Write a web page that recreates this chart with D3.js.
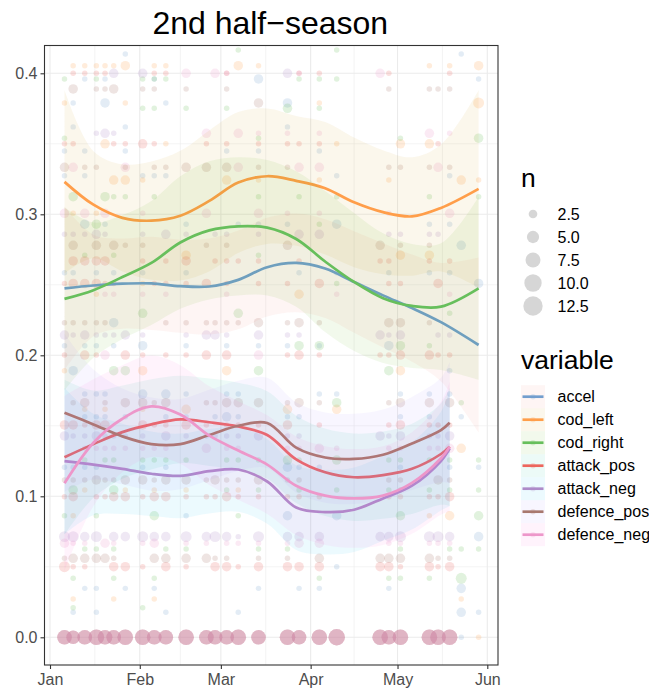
<!DOCTYPE html>
<html><head><meta charset="utf-8">
<script src="https://cdn.jsdelivr.net/npm/d3@7"></script>
<style>
body{margin:0;background:#fff}
svg{display:block}
text{font-family:"Liberation Sans",Arial,Helvetica,sans-serif}
</style>
</head><body>
<svg id="chart" width="649" height="688"></svg>
<script>
// ---------- data ----------
const variables  = ["accel","cod_left","cod_right","attack_pos","attack_neg","defence_pos","defence_neg"];
const lineColors = ["#729ECE","#FF9E4A","#67BF5C","#ED665D","#AD8BC9","#A8786E","#ED97CA"];
const fillColors = ["#F8766D","#C49A00","#53B400","#00C094","#00B6EB","#A58AFF","#FB61D7"];
const sizeBreaks = [2.5, 5.0, 7.5, 10.0, 12.5];
const yTicks = [0, 0.1, 0.2, 0.3, 0.4];
const monthTicks = ["2019-01-01","2019-02-01","2019-03-01","2019-04-01","2019-05-01","2019-06-01"];

const sessions = ["2019-01-06","2019-01-09","2019-01-13","2019-01-17","2019-01-20","2019-01-23","2019-01-27",
  "2019-02-02","2019-02-06","2019-02-10","2019-02-17","2019-02-24","2019-02-27","2019-03-03","2019-03-07",
  "2019-03-14","2019-03-24","2019-03-28","2019-04-04","2019-04-10","2019-04-25","2019-04-28","2019-05-02",
  "2019-05-12","2019-05-15","2019-05-19","2019-05-23","2019-05-29"];

// smooth curve sample dates
const topDates = ["2019-01-06","2019-01-16","2019-01-26","2019-02-05","2019-02-15","2019-02-25","2019-03-07",
  "2019-03-17","2019-03-27","2019-04-06","2019-04-16","2019-04-26","2019-05-06","2019-05-16","2019-05-29"];
const lowDates = ["2019-01-06","2019-01-16","2019-01-26","2019-02-05","2019-02-15","2019-02-25","2019-03-07",
  "2019-03-17","2019-03-27","2019-04-06","2019-04-16","2019-04-26","2019-05-06","2019-05-16","2019-05-19"];

const accelFit = [0.2475,0.2495,0.2508,0.251,0.249,0.2488,0.2535,0.2625,0.2655,0.2615,0.252,0.2425,0.2335,0.2235,0.2073];
const accelSE  = [0.058,0.036,0.032,0.033,0.033,0.034,0.035,0.035,0.035,0.035,0.036,0.037,0.038,0.042,0.062];
const codLeftFit = [0.323,0.3068,0.2975,0.2955,0.299,0.3095,0.3225,0.327,0.3237,0.3185,0.3085,0.3015,0.2985,0.3045,0.318];
const codLeftSE  = [0.065,0.038,0.038,0.042,0.046,0.050,0.050,0.048,0.046,0.047,0.046,0.044,0.042,0.045,0.070];
const codRightFit = [0.240,0.2462,0.2555,0.2655,0.280,0.2886,0.2915,0.2905,0.2825,0.2665,0.252,0.2405,0.235,0.2345,0.2475];
const codRightSE  = [0.065,0.048,0.044,0.044,0.047,0.049,0.049,0.048,0.048,0.050,0.049,0.046,0.044,0.045,0.065];
const attackPosFit = [0.1277,0.137,0.1455,0.151,0.1545,0.1525,0.1495,0.1435,0.1262,0.117,0.1135,0.115,0.1195,0.130,0.1352];
const attackPosSE  = [0.055,0.038,0.033,0.032,0.031,0.031,0.031,0.031,0.031,0.031,0.031,0.031,0.032,0.036,0.042];
const attackNegFit = [0.125,0.1225,0.1195,0.116,0.1145,0.1178,0.119,0.1105,0.092,0.0888,0.0905,0.0985,0.1075,0.125,0.134];
const attackNegSE  = [0.052,0.036,0.032,0.030,0.030,0.030,0.030,0.030,0.030,0.030,0.030,0.030,0.031,0.035,0.041];
const defencePosFit = [0.1593,0.151,0.1425,0.137,0.137,0.1435,0.150,0.152,0.1345,0.1275,0.1265,0.1295,0.1375,0.147,0.1522];
const defencePosSE  = [0.056,0.039,0.034,0.033,0.032,0.032,0.032,0.032,0.032,0.032,0.032,0.032,0.033,0.037,0.043];
const defenceNegFit = [0.1092,0.138,0.155,0.1638,0.158,0.143,0.1325,0.1225,0.1075,0.1005,0.0985,0.1005,0.1095,0.127,0.1352];
const defenceNegSE  = [0.062,0.045,0.038,0.036,0.035,0.035,0.035,0.035,0.035,0.035,0.035,0.035,0.036,0.040,0.046];

// points: [value, [session index | [session index, n]]]
const accelPts = [
 [0.4137,[6,26]],[0.396,[2,4,8,[15,3],27]],[0.379,[1,[4,3],9,[16,3]]],[0.362,[1,6,16]],
 [0.3449,[0,2,6,13,15,18]],[0.3274,[0,2,7,8,9,19,25]],[0.293,[[2,3],4,10,14,15,16,[19,3],23,25]],
 [0.278,[[26,3]]],[0.2586,[0,1,3,5,7,10,17,19,21,23,25]],[0.251,[[27,3]]],[0.2231,[[5,3]]],
 [0.2068,[0,2,3,5,[7,3],10,13,15,16,18,[21,3]]],[0.1891,[[1,3],25]],
 [0.1725,[2,3,4,[7,3],[9,3],10,13,14,18,19,22,23,25]],[0.1564,[2,3,4,6,9,10,12,[13,3],14,16,17,22,23,26]],
 [0.1206,[0,1,2,3,7,9,[16,3],17,18,22,25,27]],[0.0862,[10,[16,3],[19,3]]],[0.0714,[[27,3]]],
 [0.0501,[19]],[0.0347,[2,3,6,8,15,17,18,21,[26,3]]],[0.0177,[1,3,9,14,[26,3],27]],[0,[26]]
];
const codLeftPts = [
 [0.4054,[1,2,3,4,5,[6,3],8,9,[14,3],15,23,25,[27,3]]],[0.379,[0,6,18,[27,4]]],
 [0.35,[[4,3],9,19,[22,3],[23,3]]],[0.3243,[[5,3],[6,3],7,[13,3],15,18,21,[26,3],27]],
 [0.3007,[1,3]],[0.271,[[10,3],[22,3],[23,3]]],[0.251,[7]],[0.2433,[3,[17,3]]],
 [0.1891,[0,[7,3],[13,3],[22,3]]],[0.1617,[2,4,7,[10,3],[16,3],[19,3]]],[0.134,[[26,3]]],
 [0.1045,[2,6,8,10,14]],[0.0862,[1,23,[25,3]]],[0.0272,[1,5,8,26]],[0,[27]]
];
const codRightPts = [
 [0.4165,[14,19]],[0.396,[0,3,7,8,9,17,18,19]],[0.3752,[7,8,10,13,[16,3],18]],[0.354,[0,15,22,[27,3]]],
 [0.3125,[[1,3],[4,3],5,6,8,15,17,19,23,27]],[0.293,[[3,3],18]],[0.271,[2,5,15]],[0.251,[19]],
 [0.2298,[[7,3],[14,3],25]],[0.2068,[[17,3],[18,3],[22,3],23]],[0.1891,[[5,3],[6,3],[15,3],[21,3]]],
 [0.1664,[[19,3],26]],[0.1257,[2,4,5,7,8,9,10,13,14,15,[16,3],17,[19,3],21,22,23,25,27]],
 [0.1045,[[1,3],[5,3],13,15,17,19,21,22,23,25,27]],[0.0862,[0,3,[8,3],14,[22,3],[27,3]]],
 [0.0626,[2,3,5,9,10,15,16,22,25,26,27]],[0.0418,[1,5,8,18,21,22,23,[26,4]]],[0.021,[1,7]]
];
const zeroN = [7,6,7,8,7,7,8,8,7,7,8,7,7,7,8,7,8,7,8,9,8,7,8,8,8,8];
const attackPosPts = [
 [0.40,[1,2,3,4,8,9,13,17,18,21,25]],[0.35,[0,1,5,6,[7,3],8,11,13,15,16,17,18,24]],
 [0.2669,[[1,3],[2,3],[3,3],[4,3],7,9,[10,3],12,13,14,15,17,20,21,23,25]],
 [0.251,[0,[1,3],[2,3],[3,3],4,5,8,9,10,[11,3],13,15,16,[18,3],21,22,[24,3]]],
 [0.2002,[0,[2,3],3,[6,3],7,9,10,[11,3],[13,3],16,[17,3],18,20,21,[22,3],[23,3],24,25]],
 [0.1506,[[0,3],[1,3],2,[3,3],[4,3],[7,3],8,9,[10,3],11,13,14,15,[16,3],18,21,[22,3],23,24,25]],
 [0.0997,[0,[1,3],3,4,[5,3],[6,3],7,[8,3],[9,3],10,11,12,[13,3],14,15,16,17,18,21,22,23,24,[25,3]]],
 [0.0501,[[0,4],1,2,[5,3],[6,3],7,[9,3],10,[12,3],[13,3],14,[15,3],[16,3],[17,3],[18,3],[20,3],[21,3],22,[23,3],24,[25,3]]]
];
const attackNegPts = [
 [0.40,[[5,3],[7,3],[16,3]]],[0.3574,[3,[4,3],5]],
 [0.2858,[0,1,2,[3,3],4,7,[9,3],10,12,13,15,[17,3],[18,3],21,22,23,24]],
 [0.2144,[[0,3],1,[2,3],3,4,5,[6,3],7,10,[11,3],[12,3],13,[15,3],16,17,[20,3],21,[22,3],24,25]],
 [0.1428,[[0,3],1,2,[3,3],4,5,6,7,[9,3],10,11,12,13,14,[15,3],16,17,[20,3],21,[22,3],23,24,[25,3]]],
 [0.0714,[[0,4],[1,4],[2,3],[3,4],[5,3],[6,3],[7,4],[8,3],[9,3],[10,4],[11,3],[12,4],[13,3],14,[15,4],[16,3],[17,3],[18,3],[20,3],[21,3],[22,4],[23,4],[24,4],[25,3]]]
];
const defencePosPts = [
 [0.3889,[[1,3],3,4,[5,3],7,8,10,13,21,23,24,25]],[0.379,[[15,3]]],
 [0.3333,[[0,3],2,3,6,8,9,[10,3],[11,3],[13,3],15,16,21,22,23,25]],
 [0.278,[[1,3],[3,3],[5,3],6,7,11,13,[16,3],[20,3],22,23]],
 [0.2231,[0,1,2,3,4,9,10,11,12,13,14,[15,3],16,[17,3],18,[21,3],[22,3],23]],
 [0.1664,[1,[2,3],4,[6,3],[7,3],8,[9,3],11,12,[13,3],[14,3],[15,3],16,[17,3],18,21,[22,3],[23,3],[25,3]]],
 [0.1116,[0,1,2,[3,3],4,5,[6,3],[7,3],8,[9,3],[10,3],11,[12,3],13,14,[15,3],16,17,21,22,[24,3],25]],
 [0.056,[0,[1,3],[2,3],[3,3],[4,3],5,[8,3],[9,3],[10,3],[11,3],12,13,15,16,[18,3],[20,3],[21,3],[22,3],[23,3],24,25]]
];
const defenceNegPts = [
 [0.40,[[10,3],[12,3],13,17,[20,3]]],[0.3574,[[11,3],[14,3],15,16,18,[23,3],25]],
 [0.3333,[[1,3],[6,3],[14,3],[17,3],[18,3],[24,3]]],
 [0.3007,[[0,3],[2,3],[4,3],7,[11,3],[15,3],16,18,21,[25,3]]],
 [0.2433,[4,5,7,9,13,19,25]],[0.2002,[[4,3],[15,3]]],
 [0.134,[2,3,4,5,6,7,8,9,[11,3],13,14,16,17,[18,3],19,21,22,23,24,[25,3]]],
 [0.0667,[[0,3],1,2,[4,3],5,7,[8,3],10,11,13,14,15,16,[17,3],[18,3],21,22,23,24,25]]
];

// ---------- build ----------
const parse = d3.utcParse("%Y-%m-%d");
const fits = [accelFit,codLeftFit,codRightFit,attackPosFit,attackNegFit,defencePosFit,defenceNegFit];
const ses  = [accelSE,codLeftSE,codRightSE,attackPosSE,attackNegSE,defencePosSE,defenceNegSE];
const pts  = [accelPts,codLeftPts,codRightPts,attackPosPts,attackNegPts,defencePosPts,defenceNegPts];
const lowerGroup = [false,false,false,true,true,true,true];

function expandPts(levels, addZero){
  const out=[];
  levels.forEach(([v,list])=>list.forEach(it=>{
    const s = Array.isArray(it)?it[0]:it, n = Array.isArray(it)?it[1]:1;
    out.push({date:parse(sessions[s]), v, n});
  }));
  if(addZero) zeroN.forEach((n,i)=>out.push({date:parse(sessions[i]), v:0, n}));
  return out;
}

const series = variables.map((name,i)=>{
  const dates = lowerGroup[i]?lowDates:topDates;
  return {name, line:lineColors[i], fill:fillColors[i],
    curve: dates.map((d,k)=>({date:parse(d), fit:fits[i][k], se:ses[i][k]})),
    points: expandPts(pts[i], lowerGroup[i])};
});

const svg = d3.select("#chart");
const P = {l:44.5, r:498, t:45.5, b:665};
const x = d3.scaleUtc().domain([parse(monthTicks[0]), parse(monthTicks[5])]).range([50, 487.3]);
const y = d3.scaleLinear().domain([0, 0.4]).range([637.3, 73.3]);
const rSize = d3.scaleSqrt().domain([0, 12.5]).range([0, 9.7]);

svg.append("defs").append("clipPath").attr("id","pc")
  .append("rect").attr("x",P.l).attr("y",P.t).attr("width",P.r-P.l).attr("height",P.b-P.t);

// grid
const grid = svg.append("g");
const mt = monthTicks.map(parse);
const minorX = d3.pairs(mt).map(([a,b])=>(x(a)+x(b))/2);
const minorY = d3.pairs(yTicks).map(([a,b])=>y((a+b)/2));
grid.selectAll(".mx").data(minorX).join("line").attr("x1",d=>d).attr("x2",d=>d).attr("y1",P.t).attr("y2",P.b)
  .attr("stroke","#ebebeb").attr("stroke-width",0.6);
grid.selectAll(".my").data(minorY).join("line").attr("x1",P.l).attr("x2",P.r).attr("y1",d=>d).attr("y2",d=>d)
  .attr("stroke","#ebebeb").attr("stroke-width",0.6);
grid.selectAll(".Mx").data(mt).join("line").attr("x1",d=>x(d)).attr("x2",d=>x(d)).attr("y1",P.t).attr("y2",P.b)
  .attr("stroke","#ebebeb").attr("stroke-width",1.1);
grid.selectAll(".My").data(yTicks).join("line").attr("x1",P.l).attr("x2",P.r).attr("y1",d=>y(d)).attr("y2",d=>y(d))
  .attr("stroke","#ebebeb").attr("stroke-width",1.1);

const plot = svg.append("g").attr("clip-path","url(#pc)");
// points
series.forEach(s=>{
  plot.append("g").selectAll("circle").data(s.points).join("circle")
    .attr("cx",d=>x(d.date)).attr("cy",d=>y(d.v)).attr("r",d=>rSize(d.n))
    .attr("fill",s.line).attr("fill-opacity",0.2);
});
// smooths
const curve = d3.curveCatmullRom.alpha(0.5);
const area = d3.area().x(d=>x(d.date)).y0(d=>y(d.fit-d.se)).y1(d=>y(d.fit+d.se)).curve(curve);
const line = d3.line().x(d=>x(d.date)).y(d=>y(d.fit)).curve(curve);
series.forEach(s=>{
  plot.append("path").datum(s.curve).attr("d",area).attr("fill",s.fill).attr("fill-opacity",0.075);
  plot.append("path").datum(s.curve).attr("d",line).attr("fill","none").attr("stroke",s.line)
    .attr("stroke-width",2.7).attr("stroke-linecap","butt");
});

// border
svg.append("rect").attr("x",P.l).attr("y",P.t).attr("width",P.r-P.l).attr("height",P.b-P.t)
  .attr("fill","none").attr("stroke","#333333").attr("stroke-width",1.1);

// axes
const ya = svg.append("g").attr("transform",`translate(${P.l},0)`)
  .call(d3.axisLeft(y).tickValues(yTicks).tickFormat(d3.format(".1f")).tickSize(4).tickPadding(3));
const xa = svg.append("g").attr("transform",`translate(0,${P.b})`)
  .call(d3.axisBottom(x).tickValues(mt).tickFormat(d3.utcFormat("%b")).tickSize(4).tickPadding(4.6));
[ya,xa].forEach(a=>{
  a.select(".domain").remove();
  a.selectAll(".tick line").attr("stroke","#333333").attr("stroke-width",1.1);
  a.selectAll(".tick text").attr("fill","#4d4d4d").style("font-size","16px")
    .style("font-family",'"Liberation Sans",Arial,sans-serif');
});

// title
svg.append("text").attr("x",(P.l+P.r)/2 - 1).attr("y",34).attr("text-anchor","middle")
  .style("font-size","32px").attr("fill","#000").text("2nd half\u2212season");

// legend: n
const lg1 = svg.append("g");
lg1.append("text").attr("x",521).attr("y",187).style("font-size","26.5px").text("n");
sizeBreaks.forEach((n,i)=>{
  const cy = 214 + i*23;
  lg1.append("circle").attr("cx",533).attr("cy",cy).attr("r",rSize(n)).attr("fill","#000").attr("fill-opacity",0.16);
  lg1.append("text").attr("x",557.5).attr("y",cy).attr("dy","0.36em").style("font-size","16px").text(d3.format(".1f")(n));
});

// legend: variable
const lg2 = svg.append("g");
lg2.append("text").attr("x",521).attr("y",369).style("font-size","26.5px").text("variable");
series.forEach((s,i)=>{
  const cy = 396.7 + i*23;
  lg2.append("rect").attr("x",521).attr("y",cy-11.5).attr("width",24).attr("height",23)
    .attr("fill",s.fill).attr("fill-opacity",0.075);
  lg2.append("circle").attr("cx",533).attr("cy",cy).attr("r",2.7).attr("fill",s.line).attr("fill-opacity",0.2);
  lg2.append("line").attr("x1",522.5).attr("x2",543.5).attr("y1",cy).attr("y2",cy)
    .attr("stroke",s.line).attr("stroke-width",2.7);
  lg2.append("text").attr("x",557.5).attr("y",cy).attr("dy","0.36em").style("font-size","16px").text(s.name);
});
</script>
</body></html>
